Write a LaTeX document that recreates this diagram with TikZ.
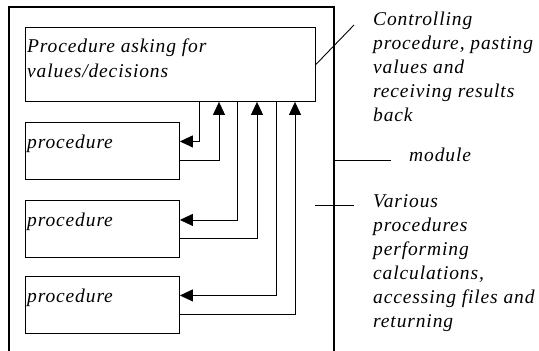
\documentclass[tikz,border=0pt]{standalone}
\usepackage{fontspec}
\setmainfont{Liberation Serif}[LetterSpace=4.5]
\usetikzlibrary{arrows.meta}
\begin{document}
\begin{tikzpicture}[x=1pt,y=-1pt,
  txt/.style={font=\itshape\fontsize{19.5}{24}\selectfont, inner sep=0pt, anchor=base west, align=left},
  boxtxt/.style={font=\itshape\fontsize{19.5}{25}\selectfont, inner sep=0pt, anchor=base west, align=left},
  procbox/.style={draw, line width=0.9pt, minimum width=154pt, minimum height=57pt, inner sep=0pt, anchor=north west},
  thin/.style={line width=0.9pt},
  arr/.style={line width=0.9pt, -{Triangle[length=13pt,width=12pt]}},
  modline/.style={line width=2pt}]
\useasboundingbox (0,0) rectangle (539,351);
% module outline (open at bottom)
\coordinate (mbl) at (9,351);
\coordinate (mtl) at (9,7);
\coordinate (mtr) at (334,7);
\coordinate (mbr) at (334,351);
\draw[modline] (mbl) -- (mtl) -- (mtr) -- (mbr);
% boxes
\node[draw, line width=0.9pt, minimum width=290pt, minimum height=74pt, inner sep=0pt, anchor=north west] (ctrl) at (25,27) {};
\node[procbox] (p1) at (25,122) {};
\node[procbox] (p2) at (25,200) {};
\node[procbox] (p3) at (25,276) {};
% box texts (base anchor = baseline of last line)
\node[boxtxt] (ctrltxt) at ([xshift=2pt,yshift=-50pt]ctrl.north west) {Procedure asking for\\values/decisions};
\node[boxtxt] (p1txt) at ([xshift=2pt,yshift=-26pt]p1.north west) {procedure};
\node[boxtxt] (p2txt) at ([xshift=2pt,yshift=-26pt]p2.north west) {procedure};
\node[boxtxt] (p3txt) at ([xshift=2pt,yshift=-26pt]p3.north west) {procedure};
% columns
\coordinate (c1) at (199,0);
\coordinate (c2) at (219,0);
\coordinate (c3) at (237,0);
\coordinate (c4) at (257,0);
\coordinate (c5) at (276,0);
\coordinate (c6) at (295,0);
% connectors
\draw[arr] (ctrl.south -| c1) |- ([yshift=9.5pt]p1.east);
\draw[arr] ([yshift=-9.5pt]p1.east) -| (ctrl.south -| c2);
\draw[arr] (ctrl.south -| c3) |- ([yshift=9pt]p2.east);
\draw[arr] ([yshift=-9pt]p2.east) -| (ctrl.south -| c4);
\draw[arr] (ctrl.south -| c5) |- ([yshift=9.5pt]p3.east);
\draw[arr] ([yshift=-9.5pt]p3.east) -| (ctrl.south -| c6);
% callouts
\coordinate (k1) at (354,25);
\draw[thin] (ctrl.east) -- (k1);
\coordinate (k2a) at (334,160);
\coordinate (k2b) at (391,160);
\draw[thin] (k2a) -- (k2b);
\coordinate (k3a) at (315,205);
\coordinate (k3b) at (354,205);
\draw[thin] (k3a) -- (k3b);
\node[txt] (t1) at (373,121) {Controlling\\procedure, pasting\\values and\\receiving results\\back};
\node[txt] (t2) at (409,161) {module};
\node[txt] (t3) at (373,327) {Various\\procedures\\performing\\calculations,\\accessing files and\\returning};
\end{tikzpicture}
\end{document}
